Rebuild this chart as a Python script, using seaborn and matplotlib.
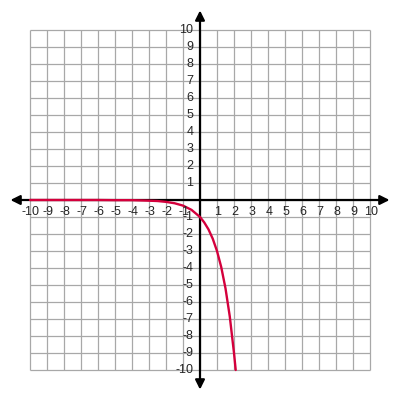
import matplotlib
matplotlib.use("Agg")
import matplotlib.pyplot as plt
import seaborn as sns
import pandas as pd

# values
curve_x = [-10, -8, -6, -5, -4, -3, -2.5, -2, -1.5, -1, -0.5, 0,
           0.25, 0.5, 0.75, 1, 1.25, 1.5, 1.75, 2, 2.1]
curve_y = [0, 0, 0, -0.01, -0.01, -0.04, -0.06, -0.11, -0.19, -0.33, -0.58, -1.0,
           -1.32, -1.73, -2.28, -3.0, -3.95, -5.2, -6.84, -9.0, -10.0]

grid_vals = list(range(-10, 11))
tick_labels = [v for v in grid_vals if v != 0]

sns.set_style("white")
plt.rcParams['font.family'] = ['Liberation Sans', 'DejaVu Sans']

fig = plt.figure(figsize=(4, 4), dpi=100)
ax = fig.add_axes([0, 0, 1, 1])
lim = 200 / 17
ax.set_xlim(-lim, lim)
ax.set_ylim(-lim, lim)
ax.axis('off')

# grid
ax.vlines(grid_vals, -10, 10, color='#a8a8a8', lw=0.9, zorder=1)
ax.hlines(grid_vals, -10, 10, color='#a8a8a8', lw=0.9, zorder=1)

# axes with arrows
arrow = dict(arrowstyle='<|-|>', color='black', lw=1.6, mutation_scale=14,
             shrinkA=0, shrinkB=0)
ax.annotate('', xy=(11.15, 0), xytext=(-11.15, 0), arrowprops=arrow, zorder=3)
ax.annotate('', xy=(0, 11.15), xytext=(0, -11.15), arrowprops=arrow, zorder=3)

# curve
df = pd.DataFrame({'x': curve_x, 'y': curve_y})
sns.lineplot(data=df, x='x', y='y', ax=ax, color='#d4003c', lw=1.7, zorder=4)

# tick labels
for v in tick_labels:
    ax.text(v + 0.05, -0.7, f'-{abs(v)}' if v < 0 else str(v), ha='center', va='center',
            fontsize=9, zorder=5)
    ax.text(-0.4, v, f'-{abs(v)}' if v < 0 else str(v), ha='right', va='center',
            fontsize=9, zorder=5)

fig.savefig('out.png', dpi=100)
